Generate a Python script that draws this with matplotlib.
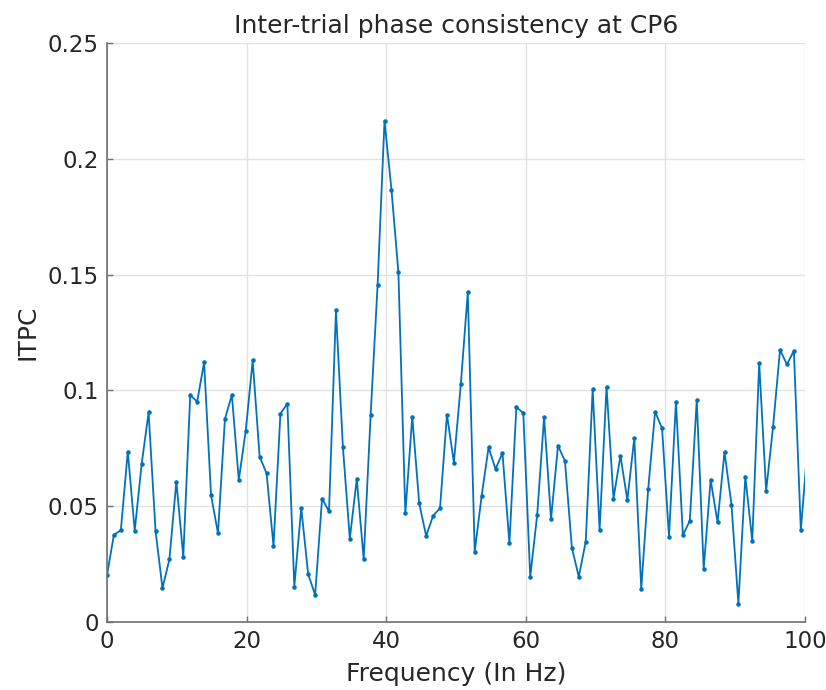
import numpy as np
import matplotlib
matplotlib.use('Agg')
import matplotlib.pyplot as plt

# ITPC values, one per frequency bin (bin spacing slightly under 1 Hz)
bin_step = 0.994
itpc = [0.0202, 0.0376, 0.0396, 0.0736, 0.0394, 0.0682, 0.0905, 0.0394, 0.0146, 0.0271,
        0.0606, 0.0282, 0.0980, 0.0951, 0.1121, 0.0548, 0.0383, 0.0877, 0.0980, 0.0613,
        0.0826, 0.1129, 0.0714, 0.0642, 0.0329, 0.0900, 0.0942, 0.0153, 0.0492, 0.0206,
        0.0117, 0.0533, 0.0477, 0.1345, 0.0757, 0.0360, 0.0617, 0.0271, 0.0894, 0.1453,
        0.2164, 0.1867, 0.1511, 0.0469, 0.0887, 0.0512, 0.0372, 0.0458, 0.0492, 0.0895,
        0.0688, 0.1028, 0.1424, 0.0303, 0.0545, 0.0754, 0.0660, 0.0730, 0.0339, 0.0927,
        0.0903, 0.0195, 0.0461, 0.0884, 0.0444, 0.0761, 0.0696, 0.0321, 0.0195, 0.0347,
        0.1006, 0.0398, 0.1016, 0.0533, 0.0717, 0.0527, 0.0795, 0.0144, 0.0573, 0.0908,
        0.0836, 0.0369, 0.0951, 0.0375, 0.0437, 0.0959, 0.0229, 0.0614, 0.0430, 0.0735,
        0.0507, 0.0079, 0.0628, 0.0350, 0.1119, 0.0566, 0.0844, 0.1175, 0.1112, 0.1171,
        0.0396, 0.0767]
freqs = np.arange(len(itpc)) * bin_step

xticks = [0, 20, 40, 60, 80, 100]
yticks = [0, 0.05, 0.1, 0.15, 0.2, 0.25]
ytick_labels = ['0', '0.05', '0.1', '0.15', '0.2', '0.25']

txt = '#262626'
fig = plt.figure(figsize=(8.26, 6.9), dpi=100)
ax = fig.add_axes([0.1295, 0.0986, 0.8451, 0.8391])

ax.plot(freqs, itpc, color='#0072BD', lw=1.3, marker='.', ms=4.5, clip_on=True)

ax.set_xlim(0, 100)
ax.set_ylim(0, 0.25)
ax.set_xticks(xticks)
ax.set_yticks(yticks)
ax.set_yticklabels(ytick_labels)
ax.grid(True, color='#e2e2e2', lw=1)
ax.set_axisbelow(True)

for s in ['top', 'right']:
    ax.spines[s].set_visible(False)
for s in ['left', 'bottom']:
    ax.spines[s].set_color('#707070')
    ax.spines[s].set_linewidth(1.2)

ax.tick_params(direction='in', length=4, width=1, colors='#707070',
               labelcolor=txt, labelsize=16.5, pad=6)

ax.set_title('Inter-trial phase consistency at CP6', fontsize=18, color=txt, pad=7)
ax.set_xlabel('Frequency (In Hz)', fontsize=18, color=txt, labelpad=6)
ax.set_ylabel('ITPC', fontsize=18, color=txt, labelpad=6)

fig.savefig('out.png', dpi=100)
